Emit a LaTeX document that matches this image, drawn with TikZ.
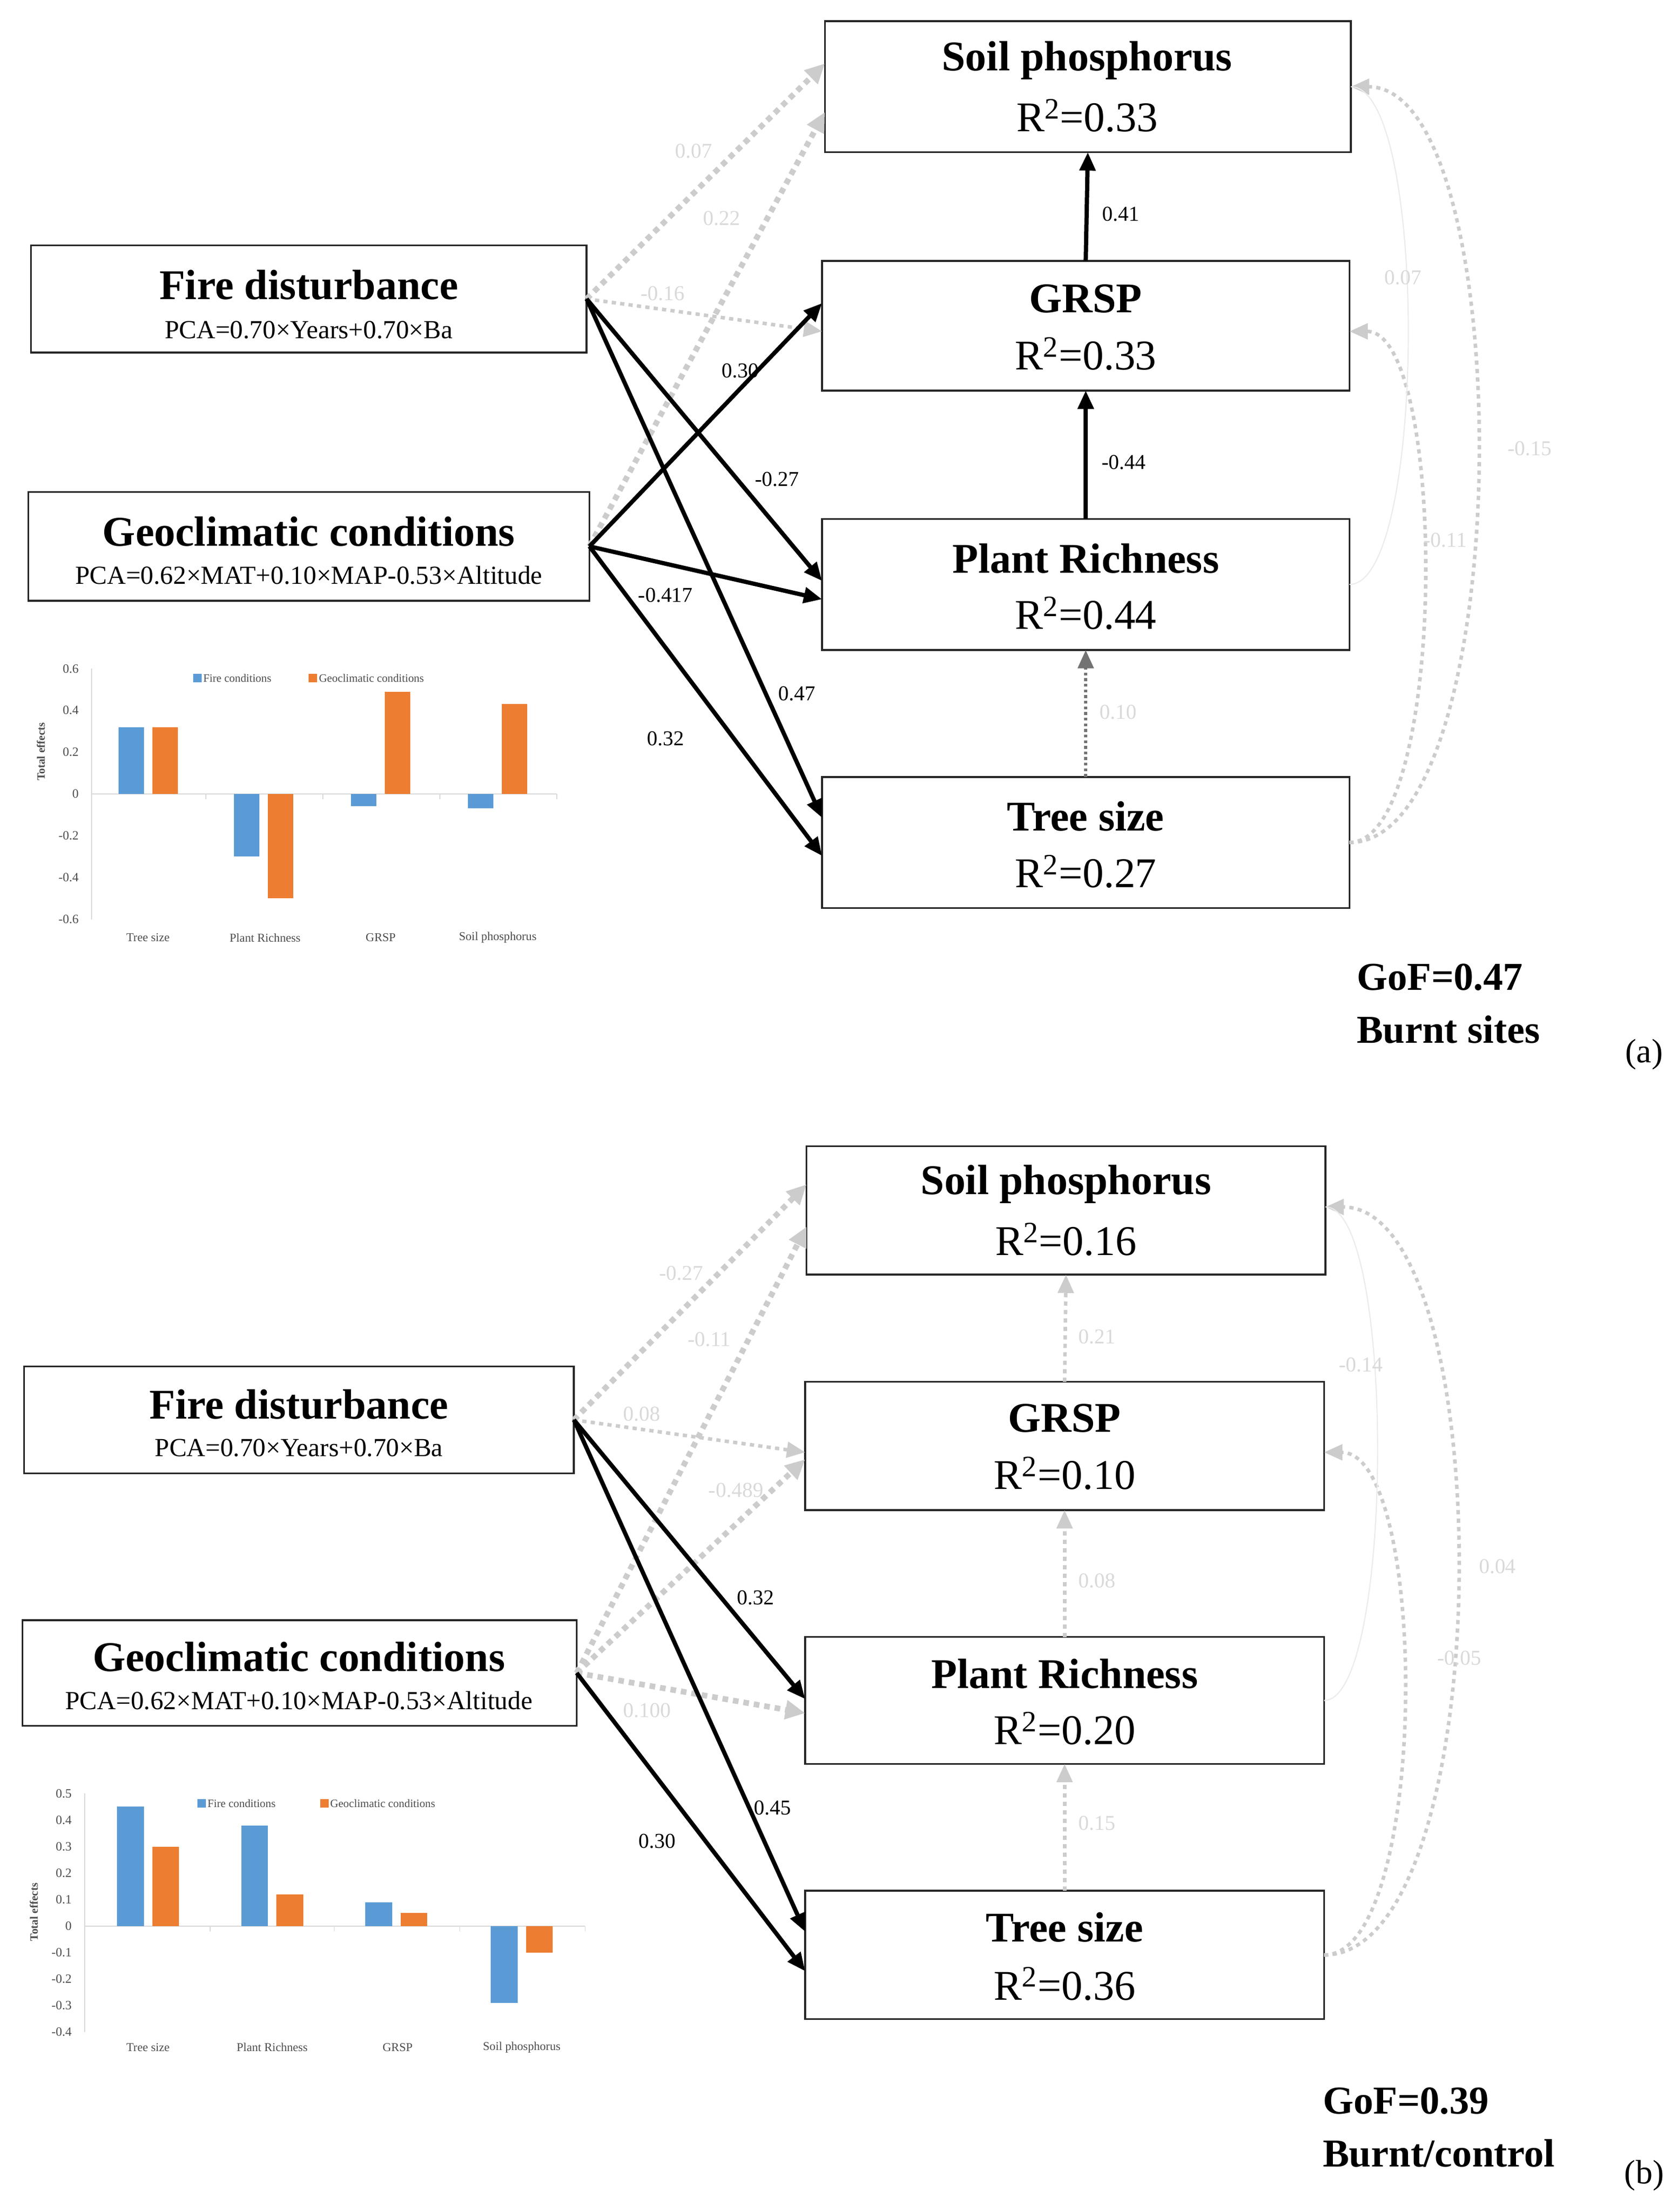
\documentclass[tikz,border=0pt]{standalone}
\usepackage{fontspec}
\setmainfont{Liberation Serif}
\usetikzlibrary{arrows.meta,calc}
\definecolor{xblue}{HTML}{5B9BD5}
\definecolor{xorange}{HTML}{ED7D31}
\begin{document}
\begin{tikzpicture}[x=1pt,y=-1pt,
  box/.style={draw=black!85,line width=1.3pt,inner sep=0pt,outer sep=0pt},
  ttl/.style={font=\bfseries\fontsize{30}{30}\selectfont},
  rsq/.style={font=\fontsize{30}{30}\selectfont},
  pca/.style={font=\fontsize{18.5}{20}\selectfont},
  blk/.style={line width=3pt,-{Triangle[length=13pt,width=11pt]}},
  gdash/.style={line width=4pt,draw=black!20,dash pattern=on 4pt off 3.5pt,-{Triangle[length=14pt,width=13pt]}},
  gdot/.style={line width=2.5pt,draw=black!20,dash pattern=on 3pt off 3pt,-{Triangle[length=13pt,width=11pt]}},
  gdotd/.style={line width=2.5pt,draw=black!55,dash pattern=on 2pt off 2pt,-{Triangle[length=13pt,width=11pt]}},
  gthin/.style={line width=0.8pt,draw=black!8},
  lb/.style={font=\fontsize{15}{15}\selectfont,inner sep=1pt},
  glb/.style={font=\fontsize{15}{15}\selectfont,text=black!15,inner sep=1pt},
  tick/.style={font=\fontsize{9}{9}\selectfont,text=black!70,anchor=east,inner sep=1pt},
  cat/.style={font=\fontsize{8.5}{9}\selectfont,text=black!70,inner sep=0pt},
  leg/.style={font=\fontsize{8}{9}\selectfont,text=black!70,anchor=west,inner sep=1pt},
  big/.style={font=\bfseries\fontsize{28}{28}\selectfont,anchor=west,inner sep=0pt}]
\useasboundingbox (0,0) rectangle (1190,1568.8);

% ================= (a) =================
\node[box,minimum width=373pt,minimum height=93pt] (sp) at (771.5,61.5) {};
\node[box,minimum width=374pt,minimum height=92pt] (gr) at (770,231) {};
\node[box,minimum width=374pt,minimum height=93pt] (pr) at (770,414.5) {};
\node[box,minimum width=374pt,minimum height=93pt] (ts) at (770,597.5) {};
\node[box,minimum width=394pt,minimum height=76pt] (fd) at (219,212) {};
\node[box,minimum width=398pt,minimum height=77pt] (gc) at (219,387.5) {};
\node[ttl] (spt) at (771,43) {Soil phosphorus};
\node[rsq] (spr) at (771,82) {R\textsuperscript{2}=0.33};
\node[ttl] (grt) at (770,212) {GRSP};
\node[rsq] (grr) at (770,251) {R\textsuperscript{2}=0.33};
\node[ttl] (prt) at (770,396) {Plant Richness};
\node[rsq] (prr) at (770,435) {R\textsuperscript{2}=0.44};
\node[ttl] (tst) at (770,579) {Tree size};
\node[rsq] (tsr) at (770,618) {R\textsuperscript{2}=0.27};
\node[ttl] (fdt) at (219,202) {Fire disturbance};
\node[pca] (fdp) at (219,234) {PCA=0.70×Years+0.70×Ba};
\node[ttl] (gct) at (219,377) {Geoclimatic conditions};
\node[pca] (gcp) at (219,408) {PCA=0.62×MAT+0.10×MAP-0.53×Altitude};

\draw[gdash] (fd.east) -- ([yshift=16.5pt]sp.west);
\draw[gdash] (gc.east) -- ([yshift=-18pt]sp.west);
\draw[gdot] (fd.east) -- ([yshift=-4pt]gr.west);
\draw[blk] (gc.east) -- ([yshift=16pt]gr.west);
\draw[blk] (fd.east) -- ([yshift=2.5pt]pr.west);
\draw[blk] (gc.east) -- ([yshift=-10.5pt]pr.west);
\draw[blk] (fd.east) -- ([yshift=17.5pt]ts.west);
\draw[blk] (gc.east) -- ([yshift=-9.5pt]ts.west);
\draw[blk] (gr.north) -- (sp.south);
\draw[blk] (pr.north) -- (gr.south);
\draw[gdotd] (ts.north) -- (pr.south);
\draw[gdot] (ts.east) .. controls +(120,0) and +(120,0) .. (sp.east);
\draw[gdot] (ts.east) .. controls +(70,0) and +(70,0) .. ([yshift=-4pt]gr.east);
\draw[gthin] (pr.east) .. controls +(55,0) and +(55,0) .. (sp.east);

\node[glb] (la1) at (492,107) {0.07};
\node[glb] (la2) at (512,155) {0.22};
\node[glb] (la3) at (470,208) {-0.16};
\node[lb] (la4) at (525,263) {0.30};
\node[lb] (la5) at (551,340) {-0.27};
\node[lb] (la6) at (472,422) {-0.417};
\node[lb] (la7) at (565,492) {0.47};
\node[lb] (la8) at (472,524) {0.32};
\node[lb] (la9) at (795,152) {0.41};
\node[lb] (la10) at (797,328) {-0.44};
\node[glb] (la11) at (793,505) {0.10};
\node[glb] (la12) at (995,197) {0.07};
\node[glb] (la13) at (1025,383) {-0.11};
\node[glb] (la14) at (1085,318) {-0.15};

\node[big] (gofa) at (962,693) {GoF=0.47};
\node[big] (bsa) at (962,730) {Burnt sites};
\node[font=\fontsize{24}{24}\selectfont] (pa) at (1166,748) {(a)};

% chart (a)
\draw[black!15,line width=0.6pt] (65,474) -- (65,652);
\draw[black!15,line width=0.6pt] (65,563) -- (395,563);
\foreach \xx in {146,229,312,395} \draw[black!15,line width=0.6pt] (\xx,563) -- (\xx,567);
\foreach \v in {-0.6,-0.4,-0.2,0,0.2,0.4,0.6}
  \node[tick] at (57,563-148*\v) {\v};
\foreach \c/\b/\o in {105/0.32/0.32,187/-0.30/-0.50,270/-0.06/0.49,353/-0.07/0.43}{
  \fill[xblue] (\c-21,563) rectangle (\c-3,563-148*\b);
  \fill[xorange] (\c+3,563) rectangle (\c+21,563-148*\o);
}
\foreach \c/\t in {105/Tree size,188/Plant Richness,270/GRSP,353/Soil phosphorus}
  \node[cat] at (\c,665) {\t};
\node[font=\bfseries\fontsize{8}{8}\selectfont,text=black!70,rotate=90] (tea) at (29,533) {Total effects};
\fill[xblue] (137,478) rectangle (143,484);
\node[leg] at (143,481) {Fire conditions};
\fill[xorange] (219,478) rectangle (225,484);
\node[leg] at (225,481) {Geoclimatic conditions};

% ================= (b) =================
\node[box,minimum width=368pt,minimum height=91pt] (sp2) at (756,858.5) {};
\node[box,minimum width=368pt,minimum height=91pt] (gr2) at (755,1025.5) {};
\node[box,minimum width=368pt,minimum height=90pt] (pr2) at (755,1206) {};
\node[box,minimum width=368pt,minimum height=91pt] (ts2) at (755,1386.5) {};
\node[box,minimum width=390pt,minimum height=76pt] (fd2) at (212,1007) {};
\node[box,minimum width=393pt,minimum height=75pt] (gc2) at (212.5,1186.5) {};
\node[ttl] (spt2) at (756,840) {Soil phosphorus};
\node[rsq] (spr2) at (756,879) {R\textsuperscript{2}=0.16};
\node[ttl] (grt2) at (755,1006) {GRSP};
\node[rsq] (grr2) at (755,1045) {R\textsuperscript{2}=0.10};
\node[ttl] (prt2) at (755,1187) {Plant Richness};
\node[rsq] (prr2) at (755,1226) {R\textsuperscript{2}=0.20};
\node[ttl] (tst2) at (755,1367) {Tree size};
\node[rsq] (tsr2) at (755,1407) {R\textsuperscript{2}=0.36};
\node[ttl] (fdt2) at (212,996) {Fire disturbance};
\node[pca] (fdp2) at (212,1027) {PCA=0.70×Years+0.70×Ba};
\node[ttl] (gct2) at (212,1175) {Geoclimatic conditions};
\node[pca] (gcp2) at (212,1206) {PCA=0.62×MAT+0.10×MAP-0.53×Altitude};

\draw[gdash] (fd2.east) -- ([yshift=18.5pt]sp2.west);
\draw[gdash] (gc2.east) -- ([yshift=-11.5pt]sp2.west);
\draw[gdot] (fd2.east) -- ([yshift=-4.5pt]gr2.west);
\draw[gdash] (gc2.east) -- ([yshift=-9.5pt]gr2.west);
\draw[gdash] (gc2.east) -- ([yshift=-9pt]pr2.west);
\draw[blk] (fd2.east) -- ([yshift=1pt]pr2.west);
\draw[blk] (fd2.east) -- ([yshift=16.5pt]ts2.west);
\draw[blk] (gc2.east) -- ([yshift=-11.5pt]ts2.west);
\draw[gdot] (gr2.north) -- (sp2.south);
\draw[gdot] (pr2.north) -- (gr2.south);
\draw[gdot] (ts2.north) -- (pr2.south);
\draw[gdot] (ts2.east) .. controls +(125,0) and +(125,0) .. ([yshift=2.5pt]sp2.east);
\draw[gdot] (ts2.east) .. controls +(75,0) and +(75,0) .. ([yshift=-4.5pt]gr2.east);
\draw[gthin] (pr2.east) .. controls +(50,0) and +(50,0) .. ([yshift=2.5pt]sp2.east);

\node[glb] (lb1) at (483,903) {-0.27};
\node[glb] (lb2) at (503,950) {-0.11};
\node[glb] (lb3) at (455,1003) {0.08};
\node[glb] (lb4) at (522,1057) {-0.489};
\node[glb] (lb5) at (459,1213) {0.100};
\node[lb] (lb6) at (536,1133) {0.32};
\node[lb] (lb7) at (548,1282) {0.45};
\node[lb] (lb8) at (466,1306) {0.30};
\node[glb] (lb9) at (778,948) {0.21};
\node[glb] (lb10) at (778,1121) {0.08};
\node[glb] (lb11) at (778,1293) {0.15};
\node[glb] (lb12) at (965,968) {-0.14};
\node[glb] (lb13) at (1035,1176) {-0.05};
\node[glb] (lb14) at (1062,1111) {0.04};

\node[big] (gofb) at (938,1490) {GoF=0.39};
\node[big] (bsb) at (938,1527) {Burnt/control};
\node[font=\fontsize{24}{24}\selectfont] (pb) at (1166,1543) {(b)};

% chart (b)
\draw[black!15,line width=0.6pt] (60,1272) -- (60,1441);
\draw[black!15,line width=0.6pt] (60,1366) -- (415,1366);
\foreach \xx in {149,237,326,415} \draw[black!15,line width=0.6pt] (\xx,1366) -- (\xx,1370);
\foreach \v in {-0.4,-0.3,-0.2,-0.1,0,0.1,0.2,0.3,0.4,0.5}
  \node[tick] at (52,1366-188*\v) {\v};
\foreach \c/\b/\o in {105/0.45/0.30,193/0.38/0.12,281/0.09/0.05,370/-0.29/-0.10}{
  \fill[xblue] (\c-22,1366) rectangle (\c-3,1366-188*\b);
  \fill[xorange] (\c+3,1366) rectangle (\c+22,1366-188*\o);
}
\foreach \c/\t in {105/Tree size,193/Plant Richness,282/GRSP,370/Soil phosphorus}
  \node[cat] at (\c,1452) {\t};
\node[font=\bfseries\fontsize{8}{8}\selectfont,text=black!70,rotate=90] (teb) at (24,1356) {Total effects};
\fill[xblue] (140,1276) rectangle (146,1282);
\node[leg] at (146,1279) {Fire conditions};
\fill[xorange] (227,1276) rectangle (233,1282);
\node[leg] at (233,1279) {Geoclimatic conditions};
\end{tikzpicture}
\end{document}
